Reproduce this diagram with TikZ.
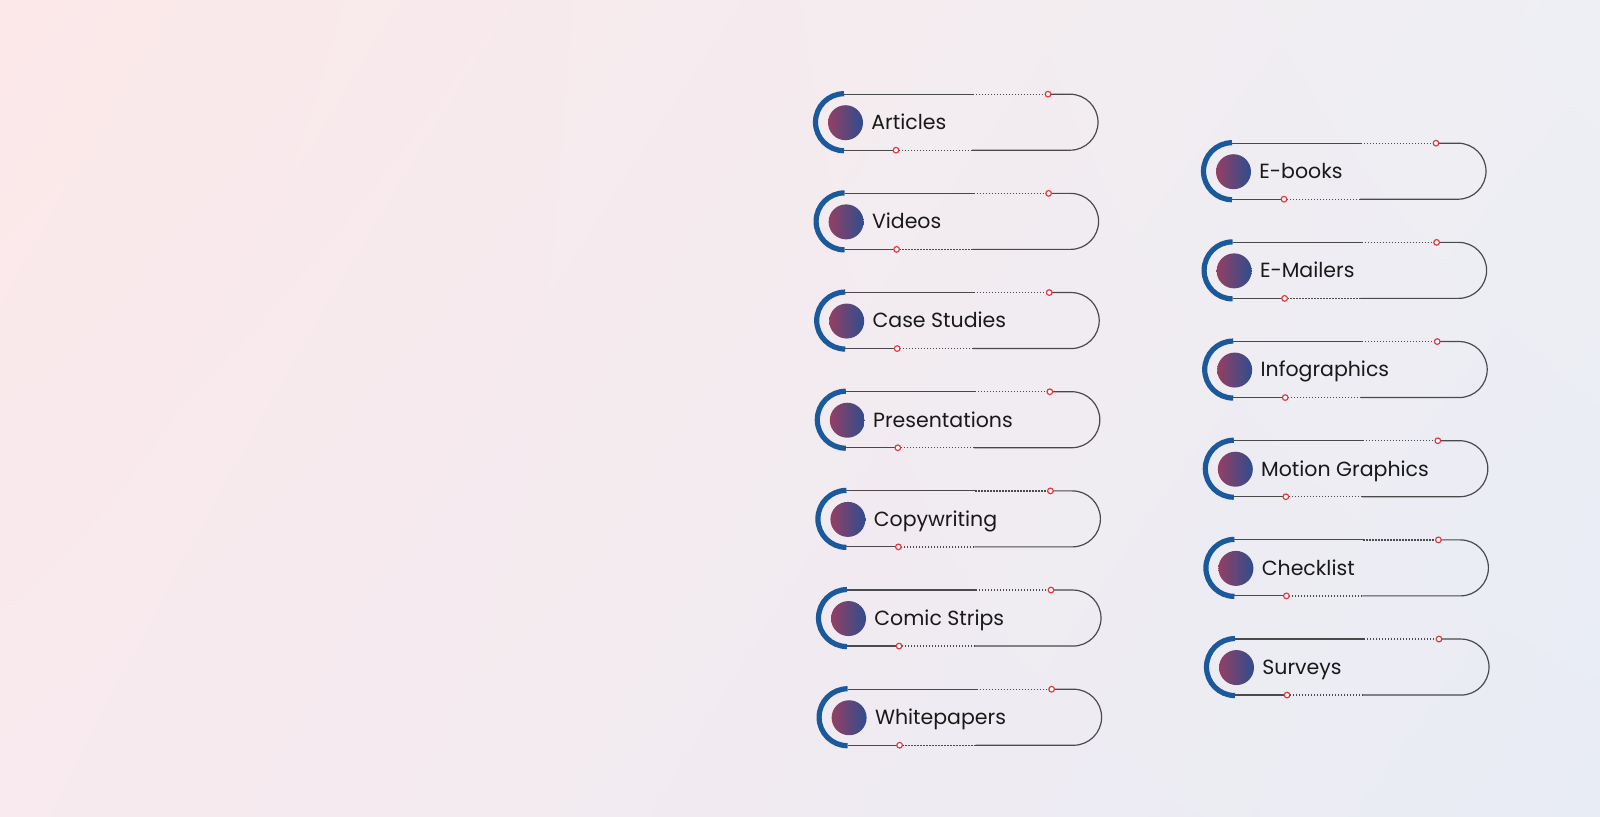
\documentclass[tikz,border=0pt]{standalone}
\usepackage{fontspec}
\setmainfont{Poppins}
\usetikzlibrary{calc,shadings}

\definecolor{bgtl}{HTML}{FCE8E9}
\definecolor{bgtr}{HTML}{EEEFF4}
\definecolor{bgbl}{HTML}{F8EAEE}
\definecolor{bgbr}{HTML}{E8ECF5}
\definecolor{ringblue}{HTML}{1A5A9C}
\definecolor{ballred}{HTML}{943F63}
\definecolor{ballblue}{HTML}{2E4D8E}
\definecolor{pinred}{HTML}{E0393E}
\definecolor{edgegray}{HTML}{4A4A4A}

\tikzset{
  edge/.style={draw=edgegray, line width=0.6pt},
  dots/.style={draw=edgegray, line width=0.7pt, dash pattern=on 0.6pt off 0.9pt},
  pin/.style={draw=pinred, fill=white, line width=0.6pt},
  ring/.style={draw=ringblue, line width=2.6pt},
  ball/.style={left color=ballred, right color=ballblue},
  itemtext/.style={anchor=base west, inner sep=0pt, text=black!90,
    font=\fontsize{10.25pt}{13pt}\selectfont}
}

% one pill: name, x, y, text
\newcommand{\pillitem}[4]{%
  \coordinate (#1) at (#2,#3);
  \draw[edge] ($(#1)+(0,-28)$) -- ++(129,0) coordinate (#1-a);
  \draw[dots] (#1-a) -- ++(75,0) coordinate (#1-b);
  \draw[edge] (#1-b) -- ++(22,0) arc[start angle=-90,end angle=90,radius=28]
    -- ++(-98,0) coordinate (#1-c);
  \draw[dots] (#1-c) -- ++(-76,0) coordinate (#1-d);
  \draw[edge] (#1-d) -- ++(-52,0);
  \draw[pin] (#1-b) circle[radius=2.8];
  \draw[pin] (#1-d) circle[radius=2.8];
  \draw[ring] ($(#1)+(0,-28.5)$) arc[start angle=-90,end angle=-270,radius=28.5];
  \shade[ball] ($(#1)+(1.5,0.5)$) circle[radius=17.5];
  \node[itemtext] (#1-t) at ($(#1)+(27,7.3)$) {#4};
}

\begin{document}
\begin{tikzpicture}[x=0.5pt,y=-0.5pt]
\useasboundingbox (0,0) rectangle (1600,816);
\shade[upper left=bgtl, upper right=bgtr, lower left=bgbl, lower right=bgbr]
  (0,0) rectangle (1600,816);

% left column
\foreach \name [count=\i from 0] in {Articles,Videos,Case Studies,Presentations,Copywriting,Comic Strips,Whitepapers}{
  \pgfmathsetmacro\cx{844+0.6*\i}
  \pgfmathsetmacro\cy{122.2+99.17*\i}
  \pillitem{l\i}{\cx}{\cy}{\name}
}

% right column
\foreach \name [count=\i from 0] in {E-books,E-Mailers,Infographics,Motion Graphics,Checklist,Surveys}{
  \pgfmathsetmacro\cx{1232+0.6*\i}
  \pgfmathsetmacro\cy{171.2+99.17*\i}
  \pillitem{r\i}{\cx}{\cy}{\name}
}
\end{tikzpicture}
\end{document}
